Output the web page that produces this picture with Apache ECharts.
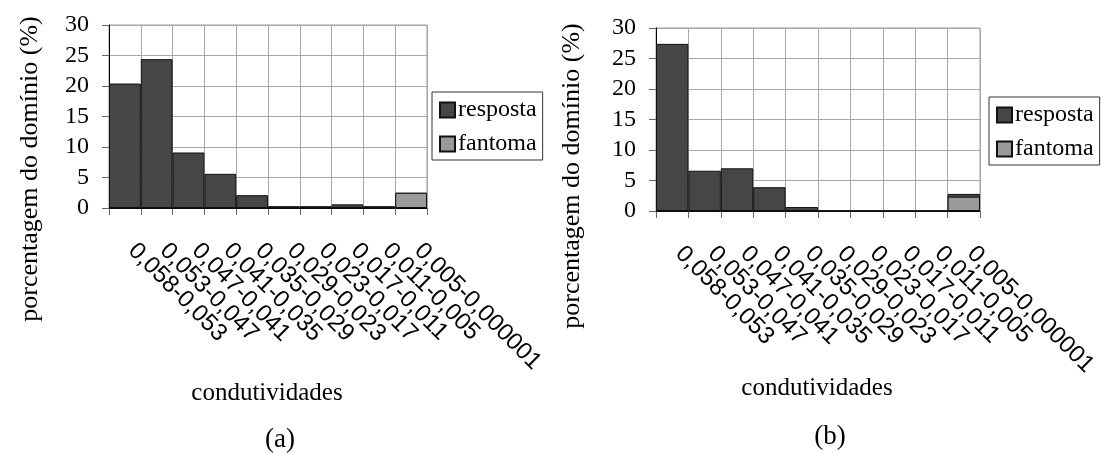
<!DOCTYPE html>
<html><head><meta charset="utf-8">
<script src="https://cdn.jsdelivr.net/npm/echarts@6/dist/echarts.min.js"></script>
<style>html,body{margin:0;padding:0;background:#fff}#c{width:1101px;height:455px}</style>
</head><body><div id="c"></div>
<script>
const categories = ["0,058-0,053","0,053-0,047","0,047-0,041","0,041-0,035","0,035-0,029","0,029-0,023","0,023-0,017","0,017-0,011","0,011-0,005","0,005-0,000001"];
const respostaA = [20.4, 24.4, 9.1, 5.6, 2.1, 0.3, 0.3, 0.6, 0.3, 2.5];
const fantomaA  = [0, 0, 0, 0, 0, 0, 0, 0, 0, 2.5];
const respostaB = [27.4, 6.6, 7.0, 3.9, 0.65, 0, 0, 0, 0, 2.8];
const fantomaB  = [0, 0, 0, 0, 0, 0, 0, 0, 0, 2.35];
const yTicks = [0, 5, 10, 15, 20, 25, 30];
const panelLabels = ["(a)", "(b)"];
const yTitle = "porcentagem do domínio (%)";
const xTitle = "condutividades";
const seriesNames = ["resposta", "fantoma"];

const SERIF = "'Liberation Serif', 'DejaVu Serif', serif";
const SANS = "'Liberation Sans', Arial, sans-serif";
const grids = [
  {left: 109, top: 25, width: 318, height: 183},
  {left: 656, top: 28, width: 324, height: 183}
];
function xAxis(i){
  return {
    type: 'category', gridIndex: i, data: categories,
    axisLine: {lineStyle: {color: '#000', width: 1}},
    axisTick: {show: true, alignWithLabel: false, length: 7, lineStyle: {color: '#666'}},
    splitLine: {show: true, lineStyle: {color: '#a8a8a8', width: 1}},
    axisLabel: {rotate: -45, margin: 32, interval: 0, padding: [0, 0, 0, 10],
                fontFamily: SANS, fontSize: 24, color: '#000'}
  };
}
function yAxis(i){
  return {
    type: 'value', gridIndex: i, min: yTicks[0], max: yTicks[yTicks.length-1], interval: 5,
    axisLine: {show: true, lineStyle: {color: '#000', width: 1}},
    axisTick: {show: true, length: 7, lineStyle: {color: '#666'}},
    splitLine: {show: true, lineStyle: {color: '#a8a8a8', width: 1}},
    axisLabel: {margin: 20, fontFamily: SERIF, fontSize: 24, color: '#000'}
  };
}
function barSeries(name, data, i, color){
  return {
    type: 'bar', name: name, data: data, xAxisIndex: i, yAxisIndex: i,
    barCategoryGap: '0%', barGap: '-100%',
    itemStyle: {color: color, borderColor: '#111', borderWidth: 1}
  };
}
function legend(left, top){
  return {
    show: true, orient: 'vertical', left: left, top: top, data: seriesNames,
    itemWidth: 15, itemHeight: 15, itemGap: 10, padding: [6, 6, 4, 7],
    borderColor: '#333', borderWidth: 1, icon: 'rect',
    textStyle: {fontFamily: SERIF, fontSize: 24, color: '#000', padding: [0, 0, 0, -2]},
    selectedMode: false
  };
}
function txt(text, x, y, size, rot){
  return {type: 'text', x: x, y: y, rotation: rot || 0,
    style: {text: text, font: size + 'px ' + SERIF, fill: '#000', textAlign: 'center', textVerticalAlign: 'middle'}};
}
const chart = echarts.init(document.getElementById('c'), null, {renderer: 'canvas'});
chart.setOption({
  animation: false,
  backgroundColor: '#fff',
  color: ['#464646', '#9a9a9a'],
  grid: grids.map(g => Object.assign({containLabel: false, show: true, borderColor: '#999', borderWidth: 1}, g)),
  xAxis: [xAxis(0), xAxis(1)],
  yAxis: [yAxis(0), yAxis(1)],
  legend: [legend(432, 92), legend(989, 97)],
  series: [
    barSeries(seriesNames[0], respostaA, 0, '#464646'),
    barSeries(seriesNames[1], fantomaA, 0, '#9a9a9a'),
    barSeries(seriesNames[0], respostaB, 1, '#464646'),
    barSeries(seriesNames[1], fantomaB, 1, '#9a9a9a')
  ],
  graphic: [
    txt(yTitle, 30, 169, 26, Math.PI/2),
    txt(yTitle, 572, 176, 26, Math.PI/2),
    txt(xTitle, 267, 393, 25),
    txt(xTitle, 817, 388, 25),
    txt(panelLabels[0], 280, 440, 27),
    txt(panelLabels[1], 830, 437, 27)
  ]
});
</script></body></html>
